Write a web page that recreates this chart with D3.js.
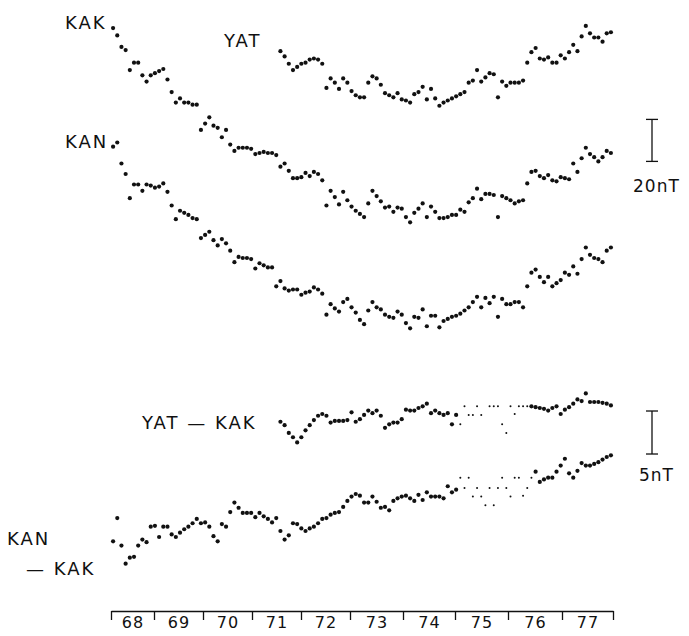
<!DOCTYPE html>
<html>
<head>
<meta charset="utf-8">
<script src="https://cdn.jsdelivr.net/npm/d3@7"></script>
<style>
  body { margin: 0; background: #fff; }
  text { font-family: "DejaVu Sans", sans-serif; fill: #111; }
</style>
</head>
<body>
<svg id="chart"></svg>
<script>
// monthly means, index 0 = Jan 1968 ; values in nT (arbitrary common baseline)
let yearLabels = ["68", "69", "70", "71", "72", "73", "74", "75", "76", "77"]

let kak = [
  129.5, 126, 120.5, 119, 109.5, 113, 113, 107, 104, 107, 108, 109,
  110, 105, 99, 94, 96, 94, 94, 93, 93, 81, 84, 87,
  83, 82, 77.5, 81, 74, 71, 72.5, 72.5, 72.5, 72, 69.5, 70,
  70.5, 70, 70, 69, 63.5, 65, 61.5, 58, 58, 58.5, 60.5, 59,
  61, 60, 57, 45, 52, 49, 45.5, 51.5, 47.5, 44.5, 42.5, 41,
  39.5, 46, 52, 49.5, 47, 44, 44.5, 42, 44, 43.5, 39.5, 37,
  41.5, 43.5, 46, 39.5, 44.5, 42, 39, 39, 39.5, 40.5, 40.5, 43,
  42, 46.5, 48.5, 53, 48, 50.5, 50.5, 50, 39.5, 49.5, 48.5, 47.5,
  46, 47, 47.5, 55.5, 61, 61.5, 59, 58, 59.5, 57, 56.5, 58.5,
  58, 57.5, 65, 61, 67.5, 72.5, 69.5, 68, 66, 68, 71, 70
]

let kan = [
  73, 75, 65, 60, 48.5, 55, 55, 52, 55, 54.5, 53.5, 54,
  55.5, 51.5, 45, 38.5, 42.5, 41.5, 40.5, 39, 38.5, 29.5, 31, 32.5,
  28.5, 26, 29, 27, 23.5, 18, 20.5, 20, 20, 19.5, 15, 17.5,
  16.5, 15.5, 15.5, 6.5, 9, 5.5, 4.5, 5, 5, 2.5, 3.5, 4,
  6, 5, 3, -7, -2, -4, -5.5, -1, 0.5, -3.5, -6, -9.5,
  -11.5, -5, -1, -3.5, -4.5, -7, -8, -8.5, -5.5, -7, -11, -13.5,
  -8, -8.5, -4.5, -12.5, -7.5, -7.5, -13, -10, -9, -8, -7.5, -6.5,
  -5, -3.5, -1, 1.5, -3.5, 1, -1.5, 1.5, -8, 0.5, -2, -2,
  -1, -1, -3.5, 6.5, 13, 14.5, 11, 8.5, 11, 6.5, 8, 9.5,
  13, 12, 16, 12.5, 19.5, 25, 21.5, 20, 19.5, 18, 23.5, 25
]

// YAT starts May 1971 (month 40)
let yatStart = 40
let yat = [
  118.5, 116, 112.5, 109.5, 111, 112.5, 113, 114.5, 115, 114.5, 112.5, 101,
  105.5, 103.5, 100.5, 105.5, 103.5, 99.5, 97.5, 96.5, 96.5, 103.5, 106.5, 105.5,
  102.5, 98.5, 97.5, 96.5, 98.5, 95.5, 95, 94, 98, 99, 101.5, 95.5,
  100.5, 96, 92.5, 94, 95, 96, 97, 98, 99, 103.5, 104.5, 109.5,
  104, 106, 108, 107.5, 96.5, 104, 102, 103.5, 103.5, 103.5, 104.5, 113,
  118, 120, 115, 114.5, 115.5, 113, 113, 116.5, 115, 118, 121.5, 118.5,
  125.5, 130.5, 127, 125, 125, 123, 127, 127.5
]

// differences (lower panel), nT
let yatKakStart = 40
let yatKak = [
  18.4, 18.0, 17.1, 16.6, 16.0, 16.6, 17.4, 18.0, 18.6, 19.1, 19.3, 19.1,
  18.3, 18.5, 18.5, 18.5, 18.6, 19.5, 18.4, 18.7, 19.2, 19.7, 19.4, 19.7,
  19.1, 17.7, 18.1, 18.3, 18.3, 18.7, 19.8, 19.7, 19.7, 20.0, 20.2, 20.5,
  19.4, 19.7, 19.4, 19.2, 19.4, 18.1, 19.2, 18.1, 20.2, 19.2, 19.2, 20.2,
  19.2, null, 20.2, 20.2, 20.2, 18.1, 17.1, 20.2, 19.3, 20.2, 20.2, 20.2,
  20.2, 20.1, 20.0, 19.9, 19.7, 20.0, 20.2, 19.3, 19.8, 20.1, 20.5, 21.0,
  20.8, 21.7, 20.7, 20.7, 20.7, 20.6, 20.5, 20.3
]

let kanKak = [
  4.5, 7.2, 4.0, 1.9, 2.6, 2.7, 4.0, 4.7, 4.4, 6.2, 6.3, 5.0,
  6.2, 6.2, 5.3, 5.0, 5.5, 5.9, 6.2, 6.6, 7.1, 6.6, 6.7, 6.2,
  5.1, 4.5, 6.5, 6.2, 7.9, 9.0, 8.4, 7.8, 7.8, 7.8, 7.3, 7.8,
  7.4, 7.1, 6.7, 7.2, 5.7, 4.7, 5.2, 6.6, 6.5, 6.0, 5.7, 6.0,
  6.2, 6.6, 7.1, 7.2, 7.6, 7.8, 7.9, 8.5, 9.2, 9.7, 10.0, 9.8,
  9.0, 9.0, 9.7, 9.1, 8.4, 8.5, 8.1, 9.2, 9.5, 9.7, 9.8, 9.5,
  9.2, 9.9, 9.3, 10.2, 9.7, 9.7, 9.7, 9.5, 10.9, 10.2, 10.5, 11.9,
  10.7, 11.9, 9.7, 10.7, 9.7, 8.7, 10.7, 8.7, 10.7, 11.9, 10.7, 9.7,
  11.9, 11.9, 9.8, 10.7, 11.9, 12.6, 11.4, 11.7, 11.9, 11.9, 12.6, 13.3,
  14.1, 12.4, 11.9, 12.7, 13.6, 13.3, 13.3, 13.5, 13.7, 14.0, 14.3, 14.5
]

// months drawn as small dots (incomplete data), [first, last]
let yatKakThin = [83, 99]
let kanKakThin = [83, 100]

let width = 689
let height = 636
let dotR = 2.1
let thinR = 1

let svg = d3.select("#chart")
  .attr("width", width)
  .attr("height", height)
  .style("display", "block")

let x = d3.scaleLinear().domain([1968, 1978]).range([111, 613])
let yTop = d3.scaleLinear().domain([0, 140]).range([300, 6])    // 2.1 px per nT
let yBot = d3.scaleLinear().domain([0, 20]).range([580, 408])   // 8.6 px per nT

// the hand-drawn time axis of the source is not evenly divided
let yearEdges = d3.range(1968, 1979)
let xAxisScale = d3.scaleLinear()
  .domain(yearEdges)
  .range([111, 154, 203, 252, 301, 350, 403, 455, 508, 562, 613])

function toPoints(values, start, thin) {
  let pts = []
  values.forEach(function (v, i) {
    if (v === null) return
    let m = start + i
    let small = thin ? (m >= thin[0] && m <= thin[1]) : false
    pts.push({ t: 1968 + (m + 0.5) / 12, v: v, small: small })
  })
  return pts
}

function drawDots(pts, yscale) {
  svg.append("g").selectAll("circle")
    .data(pts)
    .enter()
    .append("circle")
    .attr("cx", d => x(d.t))
    .attr("cy", d => yscale(d.v))
    .attr("r", d => d.small ? thinR : dotR)
    .style("fill", "#111")
}

drawDots(toPoints(kak, 0), yTop)
drawDots(toPoints(kan, 0), yTop)
drawDots(toPoints(yat, yatStart), yTop)
drawDots(toPoints(yatKak, yatKakStart, yatKakThin), yBot)
drawDots(toPoints(kanKak, 0, kanKakThin), yBot)

// series labels
let labels = [
  { text: "KAK", x: 65, y: 29 },
  { text: "KAN", x: 65, y: 148 },
  { text: "YAT", x: 224, y: 47 },
  { text: "YAT — KAK", x: 142, y: 429 },
  { text: "KAN", x: 7, y: 545 },
  { text: "— KAK", x: 26, y: 575 }
]
svg.append("g").selectAll("text")
  .data(labels)
  .enter()
  .append("text")
  .attr("x", d => d.x)
  .attr("y", d => d.y)
  .style("font-size", "18px")
  .style("letter-spacing", "2px")
  .text(d => d.text)

// scale bars
let bars = [
  { label: "20nT", from: 66, len: 20, scale: yTop, tx: 633, ty: 192 },
  { label: "5nT", from: 14.65, len: 5, scale: yBot, tx: 639, ty: 481 }
]
let bx = 652
bars.forEach(function (b) {
  let g = svg.append("g").style("stroke", "#111").style("stroke-width", 1.3)
  let y1 = b.scale(b.from), y2 = b.scale(b.from + b.len)
  g.append("line").attr("x1", bx).attr("x2", bx).attr("y1", y1).attr("y2", y2)
  g.append("line").attr("x1", bx - 6).attr("x2", bx + 6).attr("y1", y1).attr("y2", y1)
  g.append("line").attr("x1", bx - 6).attr("x2", bx + 6).attr("y1", y2).attr("y2", y2)
  svg.append("text")
    .attr("x", b.tx)
    .attr("y", b.ty)
    .style("font-size", "17px")
    .style("letter-spacing", "1px")
    .text(b.label)
})

// time axis: year boundary ticks, labels centred in each year
let axisY = 611
let tickAxis = d3.axisBottom(xAxisScale)
  .tickValues(yearEdges)
  .tickSize(9)
  .tickSizeOuter(0)
  .tickFormat("")
let gAxis = svg.append("g")
  .attr("transform", "translate(0," + axisY + ")")
  .call(tickAxis)
gAxis.select(".domain").attr("stroke", "#111").attr("stroke-width", 1.3)
gAxis.selectAll(".tick line").attr("stroke", "#111").attr("stroke-width", 1.3)

let labelAxis = d3.axisBottom(xAxisScale)
  .tickValues(d3.range(1968, 1978).map(d => d + 0.5))
  .tickSize(0)
  .tickPadding(6)
  .tickFormat((d, i) => yearLabels[i])
let gLab = svg.append("g")
  .attr("transform", "translate(0," + axisY + ")")
  .call(labelAxis)
gLab.select(".domain").remove()
gLab.selectAll("text")
  .style("font-family", "DejaVu Sans, sans-serif")
  .style("font-size", "16px")
  .style("letter-spacing", "1px")
  .attr("fill", "#111")
</script>
</body>
</html>
